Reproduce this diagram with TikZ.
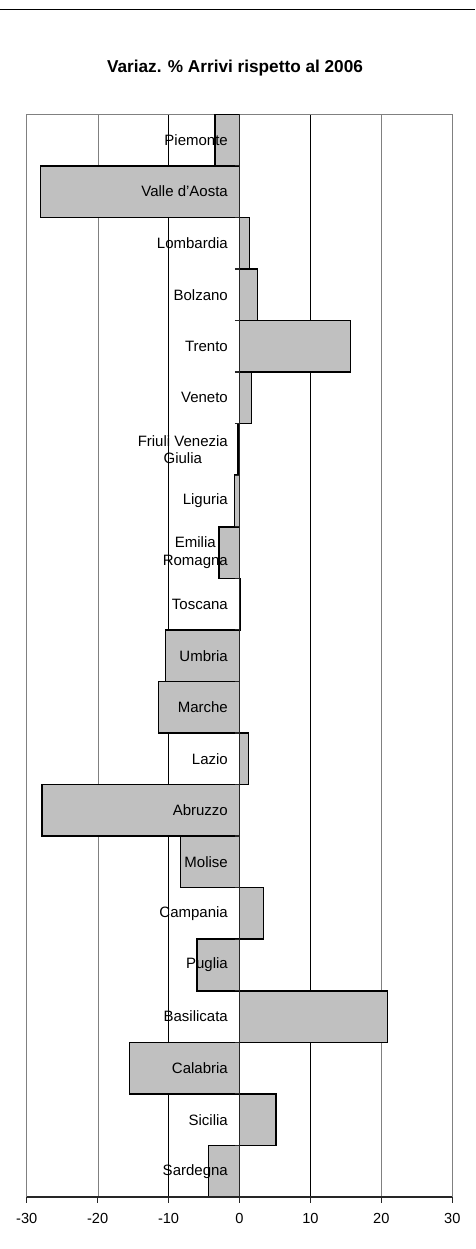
\documentclass[tikz,border=0pt]{standalone}
\usepackage{fontspec}
\setmainfont{Liberation Sans}
\definecolor{barfill}{HTML}{C0C0C0}
\definecolor{gridgray}{HTML}{808080}
\begin{document}
\begin{tikzpicture}[x=1pt,y=-1pt,
  bar/.style={fill=barfill, draw=black, line width=1.5pt},
  lab/.style={anchor=east, font=\fontsize{15}{17.5}\selectfont, align=center, inner sep=0pt},
  ticklab/.style={font=\fontsize{14.6}{17}\selectfont, inner sep=0pt},
  gridline/.style={line width=0.8pt},
  frame/.style={draw=gridgray, line width=1.2pt},
  axis/.style={draw=black!85, line width=1.2pt}]
\useasboundingbox (0,0) rectangle (475,1249);
\def\xz{239.3}
\def\sc{7.093}
\def\yt{114.3}
\def\bh{51.556}
\def\yb{1197}
% top rule
\draw[line width=1pt] (0,10) -- (475,10);
% title
\node[font=\bfseries\fontsize{17.2}{20}\selectfont, inner sep=0pt] (title) at (235,68) {Variaz. \% Arrivi rispetto al 2006};
% gridlines
\draw[gridline, gridgray] (98.3,\yt) -- (98.3,\yb);
\draw[gridline, black] (168.3,\yt) -- (168.3,\yb);
\draw[gridline, black] (310.3,\yt) -- (310.3,\yb);
\draw[gridline, gridgray] (381,\yt) -- (381,\yb);
% frame
\draw[frame] (26.7,\yb) -- (26.7,\yt) -- (452.3,\yt) -- (452.3,\yb);
% bars
\foreach \v [count=\i from 0] in {-3.43,-28.0,1.41,2.59,15.65,1.74,-0.2,-0.7,-2.86,0.15,-10.4,-11.36,1.32,-27.8,-8.26,3.39,-5.96,20.87,-15.45,5.17,-4.37}{
  \filldraw[bar] (\xz,{\yt+\i*\bh}) rectangle ({\xz+\v*\sc},{\yt+(\i+1)*\bh});
}
% category axis
\draw[axis] (\xz,\yt) -- (\xz,\yb);
\foreach \i in {1,...,20}{
  \draw[axis] ({\xz-4.5},{\yt+\i*\bh}) -- (\xz,{\yt+\i*\bh});
}
% value axis
\draw[axis] (26.7,\yb) -- (452.3,\yb);
\foreach \t [count=\k from 0] in {-30,-20,-10,0,10,20,30}{
  \draw[axis] ({26.7+\k*70.93},\yb) -- ({26.7+\k*70.93},{\yb+5.5});
  \node[ticklab] (t\k) at ({26.7+\k*70.93},1218) {\t};
}
% labels
\foreach \n [count=\i from 0] in {Piemonte,Valle d'Aosta,Lombardia,Bolzano,Trento,Veneto,Friuli Venezia\\Giulia,Liguria,Emilia\\Romagna,Toscana,Umbria,Marche,Lazio,Abruzzo,Molise,Campania,Puglia,Basilicata,Calabria,Sicilia,Sardegna}{
  \node[lab] (l\i) at (228,{\yt+(\i+0.5)*\bh}) {\n};
}
\end{tikzpicture}
\end{document}
